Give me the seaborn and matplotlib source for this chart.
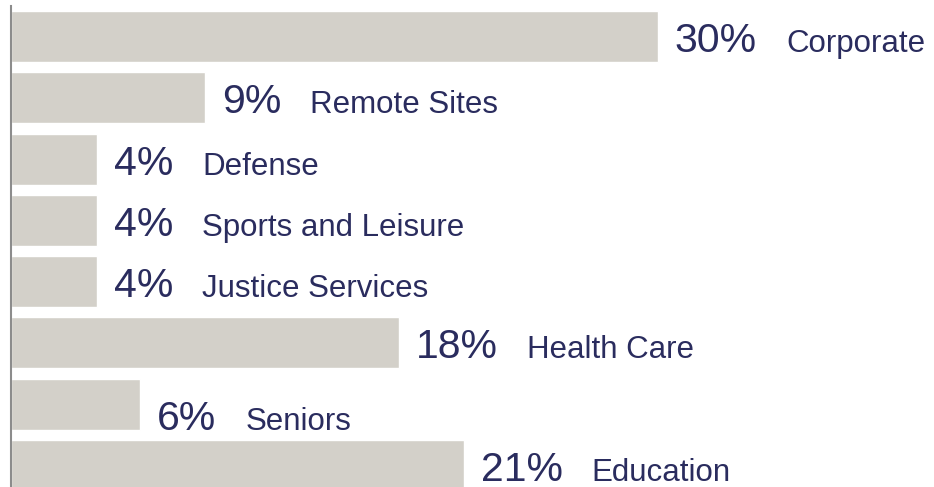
import matplotlib
matplotlib.use("Agg")
import matplotlib.pyplot as plt
import matplotlib.transforms as mtransforms
import seaborn as sns
import pandas as pd

# data
categories = ["Corporate", "Remote Sites", "Defense", "Sports and Leisure",
              "Justice Services", "Health Care", "Seniors", "Education"]
shares = [30, 9, 4, 4, 4, 18, 6, 21]

bar_color = "#d3d0c9"
text_color = "#2a2c5e"

sns.set_theme(style="white")
plt.rcParams["font.family"] = ["Liberation Sans", "DejaVu Sans"]

df = pd.DataFrame({"sector": categories, "share": shares})

fig = plt.figure(figsize=(9.34, 4.87), dpi=100)
W, H = 934, 487
# axes: left edge at ~10.5px, top at ~6px, bottom runs a bit past the figure
ax = fig.add_axes([10.5 / W, (H - 496) / H, 1 - 10.5 / W, 490 / H])

sns.barplot(data=df, y="sector", x="share", orient="h", color=bar_color,
            width=0.83, saturation=1, ax=ax)

ax.set_xlim(0, 42.8)
ax.set_ylim(len(categories) - 0.5, -0.5)
ax.set_xlabel("")
ax.set_ylabel("")
ax.set_xticks([])
ax.set_yticks([])
for side in ["top", "right", "bottom"]:
    ax.spines[side].set_visible(False)
ax.spines["left"].set_color("#8c8c8c")
ax.spines["left"].set_linewidth(1.5)

# small vertical nudge (pixels, downward) for the one label that sits lower
nudge = {"Seniors": 10}

pct_texts = []
for i, (name, val) in enumerate(zip(categories, shares)):
    dy = -15.5 - nudge.get(name, 0)
    tr = mtransforms.offset_copy(ax.transData, fig=fig, x=17, y=dy, units="dots")
    t = ax.text(val, i, f"{val}%", transform=tr, ha="left", va="baseline",
                fontsize=29.5, color=text_color)
    pct_texts.append((t, i, dy))

fig.canvas.draw()
renderer = fig.canvas.get_renderer()
for (t, i, dy), name in zip(pct_texts, categories):
    bb = t.get_window_extent(renderer)
    x_end = ax.transData.inverted().transform((bb.x1, 0))[0]
    tr = mtransforms.offset_copy(ax.transData, fig=fig, x=29, y=dy, units="dots")
    ax.text(x_end, i, name, transform=tr, ha="left", va="baseline",
            fontsize=22.5, color=text_color)

fig.savefig("out.png", dpi=100)
